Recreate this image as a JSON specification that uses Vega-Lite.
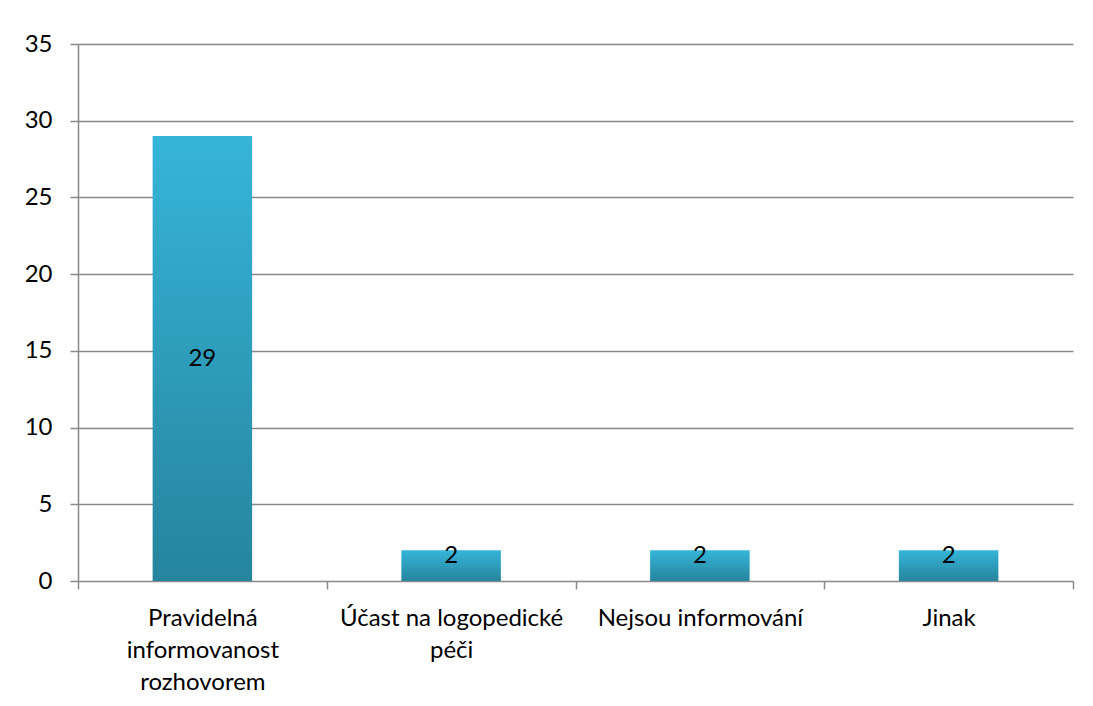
{
  "$schema": "https://vega.github.io/schema/vega-lite/v6.json",
  "autosize": "none",
  "padding": {"left": 78, "top": 44, "right": 20, "bottom": 125},
  "width": 995,
  "height": 537,
  "background": "#ffffff",
  "config": {
    "font": "Lato",
    "view": {"stroke": null},
    "axis": {
      "labelFont": "Lato",
      "labelFontSize": 24,
      "labelColor": "#000000",
      "labelLimit": 400,
      "domainColor": "#898989",
      "domainWidth": 1.5,
      "tickColor": "#898989",
      "tickWidth": 1.5,
      "tickSize": 8,
      "gridColor": "#898989",
      "gridWidth": 1.5
    }
  },
  "data": {
    "values": [
      {"kategorie": "Pravidelná\ninformovanost\nrozhovorem", "pocet": 29},
      {"kategorie": "Účast na logopedické\npéči", "pocet": 2},
      {"kategorie": "Nejsou informování", "pocet": 2},
      {"kategorie": "Jinak", "pocet": 2}
    ]
  },
  "encoding": {
    "x": {
      "field": "kategorie",
      "type": "nominal",
      "sort": null,
      "scale": {"paddingInner": 0, "paddingOuter": 0},
      "axis": {
        "title": null,
        "labelAngle": 0,
        "tickBand": "extent",
        "grid": false,
        "domain": false,
        "labelPadding": 17,
        "labelLineHeight": 32,
        "labelBaseline": "top",
        "labelExpr": "split(datum.label, '\\n')"
      }
    }
  },
  "layer": [
    {
      "mark": {
        "type": "bar",
        "width": {"band": 0.4},
        "color": {
          "gradient": "linear",
          "x1": 0, "y1": 0, "x2": 0, "y2": 1,
          "stops": [
            {"offset": 0, "color": "#36b5d9"},
            {"offset": 1, "color": "#26849d"}
          ]
        }
      },
      "encoding": {
        "y": {
          "field": "pocet",
          "type": "quantitative",
          "scale": {"domain": [0, 35], "nice": false},
          "axis": {
            "title": null,
            "values": [0, 5, 10, 15, 20, 25, 30, 35],
            "grid": true,
            "labelPadding": 18
          }
        }
      }
    },
    {
      "transform": [
        {"filter": "datum.pocet >= 10"},
        {"calculate": "datum.pocet / 2", "as": "stred"}
      ],
      "mark": {"type": "text", "font": "Lato", "fontSize": 24, "color": "#000000", "baseline": "middle"},
      "encoding": {
        "y": {"field": "stred", "type": "quantitative"},
        "text": {"field": "pocet", "type": "quantitative"}
      }
    },
    {
      "transform": [{"filter": "datum.pocet < 10"}],
      "mark": {"type": "text", "font": "Lato", "fontSize": 24, "color": "#000000", "baseline": "middle", "dy": 6},
      "encoding": {
        "y": {"field": "pocet", "type": "quantitative"},
        "text": {"field": "pocet", "type": "quantitative"}
      }
    }
  ]
}
